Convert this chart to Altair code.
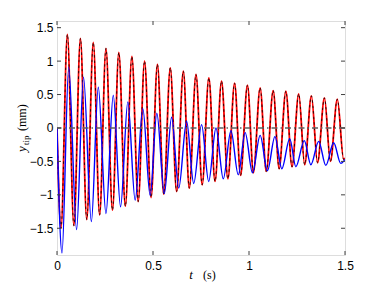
import altair as alt
import pandas as pd

# ---- data ----
red_t = [0.000, 0.021, 0.054, 0.088, 0.122, 0.155, 0.189, 0.222, 0.255, 0.289, 0.322,
         0.356, 0.390, 0.423, 0.456, 0.490, 0.523, 0.556, 0.590, 0.623, 0.658, 0.689,
         0.724, 0.756, 0.791, 0.823, 0.857, 0.890, 0.925, 0.956, 0.992, 1.023, 1.058,
         1.090, 1.126, 1.157, 1.192, 1.224, 1.259, 1.290, 1.325, 1.357, 1.393, 1.424,
         1.460, 1.493, 1.500]
red_y = [0.00, -1.50, 1.40, -1.46, 1.34, -1.37, 1.28, -1.30, 1.19, -1.23, 1.13,
         -1.17, 1.07, -1.10, 1.00, -1.04, 0.95, -0.99, 0.90, -0.95, 0.85, -0.90,
         0.80, -0.85, 0.75, -0.80, 0.70, -0.76, 0.67, -0.71, 0.64, -0.67, 0.60,
         -0.65, 0.56, -0.61, 0.55, -0.58, 0.51, -0.55, 0.48, -0.52, 0.45, -0.50,
         0.43, -0.47, -0.45]

blue_t = [0.000, 0.026, 0.061, 0.102, 0.138, 0.179, 0.215, 0.255, 0.293, 0.331, 0.369,
          0.407, 0.447, 0.485, 0.520, 0.559, 0.597, 0.634, 0.675, 0.712, 0.753, 0.790,
          0.828, 0.866, 0.906, 0.944, 0.980, 1.018, 1.058, 1.096, 1.135, 1.171, 1.212,
          1.244, 1.288, 1.322, 1.363, 1.400, 1.441, 1.478, 1.500]
blue_y = [0.00, -1.87, 0.91, -1.52, 0.76, -1.40, 0.61, -1.28, 0.49, -1.18, 0.39,
          -1.08, 0.29, -1.01, 0.22, -0.98, 0.16, -0.90, 0.10, -0.83, 0.05, -0.80,
          0.00, -0.76, -0.04, -0.70, -0.07, -0.67, -0.11, -0.64, -0.13, -0.61, -0.16,
          -0.58, -0.19, -0.55, -0.20, -0.56, -0.22, -0.53, -0.47]

x_ticks = [0, 0.5, 1, 1.5]
y_ticks = [-1.5, -1, -0.5, 0, 0.5, 1, 1.5]
zero_level = [0]
x_domain = [0, 1.5]
y_domain = [-1.9, 1.6]
x_title_parts = ["t", "(s)"]
y_title_parts = ["y", "tip", "(mm)"]

W, H = 288, 234
TL = 4  # inward tick length
AX = "#404040"

red_df = pd.DataFrame({"t": red_t, "y": red_y})
blue_df = pd.DataFrame({"t": blue_t, "y": blue_y})

xs = alt.Scale(domain=x_domain, nice=False, zero=False)
ys = alt.Scale(domain=y_domain, nice=False, zero=False)
lab = dict(labelFont="Liberation Sans", labelFontSize=12, labelColor="black",
           grid=False, ticks=False, domain=False, title=None, tickSize=0,
           labelFlush=False, labelOverlap=False)
xaxis = alt.Axis(values=x_ticks, format="~g", labelPadding=5, **lab)
yaxis = alt.Axis(values=y_ticks, format="~g", labelPadding=4, **lab)


def X(f):
    return alt.X(f, type="quantitative", scale=xs, axis=xaxis)


def Y(f):
    return alt.Y(f, type="quantitative", scale=ys, axis=yaxis)


red = alt.Chart(red_df).mark_line(color="#ff0000", strokeWidth=1.8,
                                  interpolate="monotone", clip=True).encode(x=X("t"), y=Y("y"))
black = alt.Chart(red_df).mark_line(color="black", strokeWidth=0.8, strokeDash=[2.5, 3],
                                    interpolate="monotone", clip=True).encode(x=X("t"), y=Y("y"))
blue = alt.Chart(blue_df).mark_line(color="#0000ff", strokeWidth=1.4,
                                    interpolate="monotone", clip=True).encode(x=X("t"), y=Y("y"))
zero = alt.Chart(pd.DataFrame({"z": zero_level})).mark_rule(
    color="#606060", strokeWidth=1.5, strokeDash=[6, 3, 1.5, 3]).encode(y=Y("z"))

xt = pd.DataFrame({"v": x_ticks})
yt = pd.DataFrame({"v": y_ticks})
tick_b = alt.Chart(xt).mark_rule(color=AX).encode(x=X("v"), y=alt.value(H), y2=alt.value(H - TL))
tick_t = alt.Chart(xt).mark_rule(color=AX).encode(x=X("v"), y=alt.value(0), y2=alt.value(TL))
tick_l = alt.Chart(yt).mark_rule(color=AX).encode(y=Y("v"), x=alt.value(0), x2=alt.value(TL))
tick_r = alt.Chart(yt).mark_rule(color=AX).encode(y=Y("v"), x=alt.value(W), x2=alt.value(W - TL))

one = pd.DataFrame({"k": [0]})
xt1 = alt.Chart(one).mark_text(text=x_title_parts[0], font="Liberation Serif", fontStyle="italic",
                               fontSize=13, align="center", baseline="alphabetic",
                               color="black").encode(x=alt.value(134), y=alt.value(258))
xt2 = alt.Chart(one).mark_text(text=x_title_parts[1], font="Liberation Serif",
                               fontSize=12, align="left", baseline="alphabetic",
                               color="black").encode(x=alt.value(146), y=alt.value(258))
yt1 = alt.Chart(one).mark_text(text=y_title_parts[0], font="Liberation Serif", fontStyle="italic",
                               fontSize=13, align="left", baseline="alphabetic", angle=270,
                               color="black").encode(x=alt.value(-31.5), y=alt.value(131))
yt2 = alt.Chart(one).mark_text(text=y_title_parts[1], font="Liberation Serif",
                               fontSize=9, align="left", baseline="alphabetic", angle=270,
                               color="black").encode(x=alt.value(-28.5), y=alt.value(124))
yt3 = alt.Chart(one).mark_text(text=y_title_parts[2], font="Liberation Serif",
                               fontSize=12, align="left", baseline="alphabetic", angle=270,
                               color="black").encode(x=alt.value(-31.5), y=alt.value(110))

chart = alt.layer(red, black, blue, zero, tick_b, tick_t, tick_l, tick_r,
                  xt1, xt2, yt1, yt2, yt3).properties(
    width=W, height=H,
    autosize=alt.AutoSizeParams(type="none"),
    padding={"left": 49, "top": 13, "right": 25, "bottom": 30},
).configure_view(stroke=AX, strokeWidth=1).configure(background="white")

chart.save("out.html", embed_options={"renderer": "svg", "actions": False})
